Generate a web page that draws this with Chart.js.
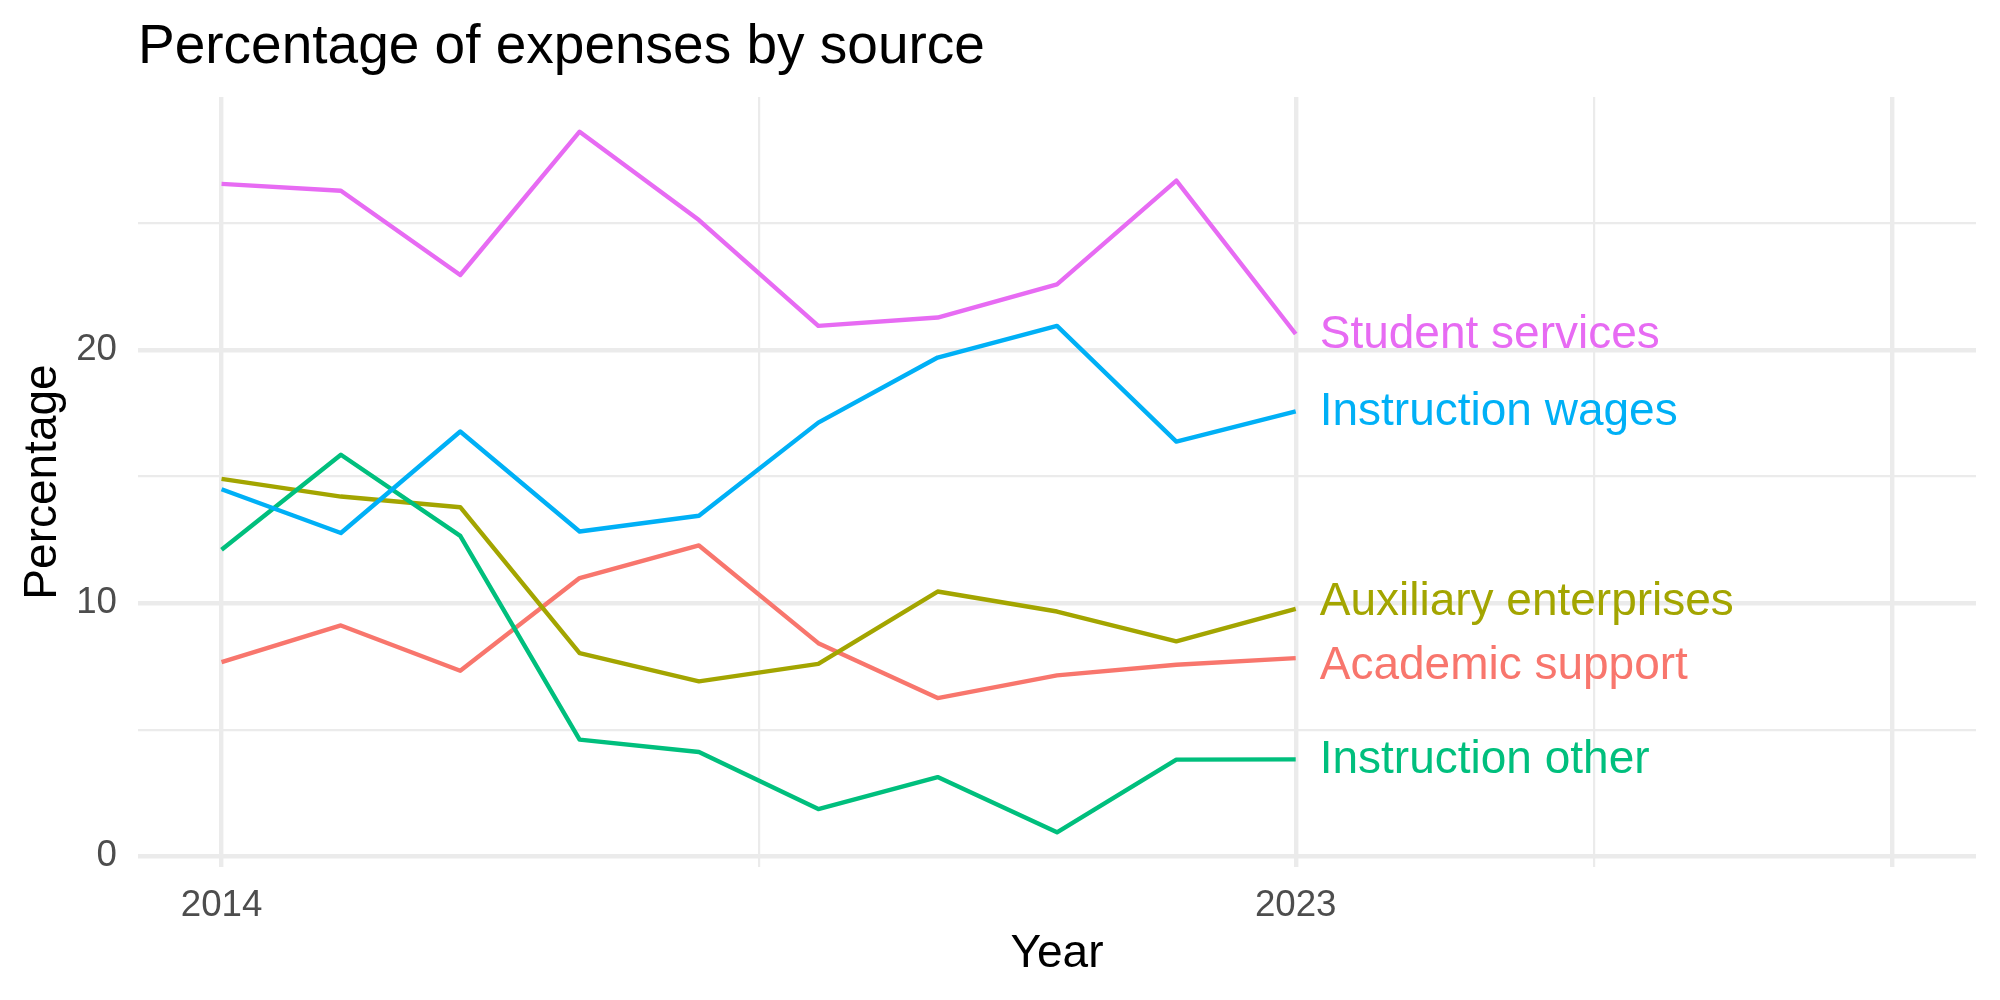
<!DOCTYPE html>
<html>
<head>
<meta charset="utf-8">
<script src="https://cdn.jsdelivr.net/npm/chart.js@4/dist/chart.umd.min.js"></script>
<style>
  html, body { margin: 0; padding: 0; background: #ffffff; }
  #wrap { width: 2000px; height: 1000px; }
</style>
</head>
<body>
<div id="wrap"><canvas id="c" width="2000" height="1000"></canvas></div>
<script>
// ---------- data ----------
const years = [2014, 2015, 2016, 2017, 2018, 2019, 2020, 2021, 2022, 2023];
const seriesNames = ["Academic support", "Auxiliary enterprises", "Instruction other", "Instruction wages", "Student services"];
const academicSupport      = [7.67, 9.12, 7.33, 10.99, 12.28, 8.42, 6.25, 7.15, 7.57, 7.83];
const auxiliaryEnterprises = [14.91, 14.21, 13.79, 8.03, 6.91, 7.60, 10.46, 9.67, 8.49, 9.77];
const instructionOther     = [12.11, 15.86, 12.66, 4.61, 4.12, 1.87, 3.13, 0.95, 3.82, 3.83];
const instructionWages     = [14.50, 12.77, 16.78, 12.83, 13.45, 17.13, 19.70, 20.95, 16.38, 17.57];
const studentServices      = [26.56, 26.29, 22.96, 28.62, 25.13, 20.95, 21.28, 22.59, 26.69, 20.63];
const seriesColors = ["#F8766D", "#A3A500", "#00BF7D", "#00B0F6", "#E76BF3"];

const xMajorBreaks = [2014, 2023, 2028];
const xMinorBreaks = [2018.5, 2025.5];
const xTickLabels = { 2014: "2014", 2023: "2023" };
const yMajorBreaks = [0, 10, 20];
const yMinorBreaks = [5, 15, 25];
const yTickLabels = { 0: "0", 10: "10", 20: "20" };

const titleText = "Percentage of expenses by source";
const xTitle = "Year";
const yTitle = "Percentage";

// ---------- chart ----------
const FONT = "'Liberation Sans', Arial, Helvetica, sans-serif";
const allSeries = [academicSupport, auxiliaryEnterprises, instructionOther, instructionWages, studentServices];

const datasets = allSeries.map((vals, i) => ({
  label: seriesNames[i],
  data: years.map((y, j) => ({ x: y, y: vals[j] })),
  borderColor: seriesColors[i],
  backgroundColor: seriesColors[i],
  borderWidth: 4.4,
  borderJoinStyle: 'round',
  pointRadius: 0,
  tension: 0,
  fill: false,
  order: allSeries.length - 1 - i
}));

const gridColor = "#EBEBEB";

const endLabels = {
  id: 'endLabels',
  afterDatasetsDraw(chart) {
    const ctx = chart.ctx;
    const xs = chart.scales.x, ys = chart.scales.y;
    // title
    ctx.save();
    ctx.fillStyle = "#000000";
    ctx.font = "55px " + FONT;
    ctx.textAlign = "left";
    ctx.textBaseline = "alphabetic";
    ctx.fillText(titleText, chart.chartArea.left, 63);
    ctx.restore();

    // end labels with simple repel
    const items = allSeries.map((vals, i) => ({
      i, y: ys.getPixelForValue(vals[vals.length - 1]),
      x: xs.getPixelForValue(years[years.length - 1])
    }));
    items.sort((a, b) => a.y - b.y);
    const minGap = 63.5;
    for (let iter = 0; iter < 50; iter++) {
      let moved = false;
      for (let k = 0; k < items.length - 1; k++) {
        const gap = items[k + 1].y - items[k].y;
        if (gap < minGap) {
          const d = (minGap - gap) / 2;
          items[k].y -= d; items[k + 1].y += d; moved = true;
        }
      }
      if (!moved) break;
    }
    ctx.save();
    ctx.font = "46px " + FONT;
    ctx.textAlign = "left";
    ctx.textBaseline = "middle";
    items.forEach(it => {
      ctx.fillStyle = seriesColors[it.i];
      ctx.fillText(seriesNames[it.i], it.x + 24, it.y + 1);
    });
    ctx.restore();
  }
};

new Chart(document.getElementById('c'), {
  type: 'line',
  data: { datasets },
  options: {
    responsive: false,
    animation: false,
    devicePixelRatio: 1,
    layout: { padding: { top: 97, right: 24, left: 0, bottom: 0 } },
    plugins: { legend: { display: false }, tooltip: { enabled: false }, title: { display: false } },
    scales: {
      x: {
        type: 'linear',
        min: 2013.3,
        max: 2028.7,
        afterBuildTicks(scale) {
          scale.ticks = [...xMajorBreaks, ...xMinorBreaks].sort((a, b) => a - b).map(v => ({ value: v }));
        },
        afterFit(scale) { scale.height = 133; },
        border: { display: false },
        grid: {
          drawTicks: false,
          color: gridColor,
          lineWidth: c => (c.tick && xMajorBreaks.includes(c.tick.value)) ? 4.4 : 2.2
        },
        ticks: {
          autoSkip: false,
          maxRotation: 0,
          padding: 17,
          color: "#4D4D4D",
          font: { family: FONT, size: 36.7 },
          callback: v => xTickLabels[v] || ""
        },
        title: {
          display: true,
          text: xTitle,
          color: "#000000",
          font: { family: FONT, size: 46 },
          padding: { top: 0, bottom: 18 }
        }
      },
      y: {
        type: 'linear',
        min: -0.42,
        max: 29.99,
        afterBuildTicks(scale) {
          scale.ticks = [...yMajorBreaks, ...yMinorBreaks].sort((a, b) => a - b).map(v => ({ value: v }));
        },
        afterFit(scale) { scale.width = 138; },
        border: { display: false },
        grid: {
          drawTicks: false,
          color: gridColor,
          lineWidth: c => (c.tick && yMajorBreaks.includes(c.tick.value)) ? 4.4 : 2.2
        },
        ticks: {
          autoSkip: false,
          padding: 21,
          color: "#4D4D4D",
          font: { family: FONT, size: 36.7 },
          callback: v => (yTickLabels[v] !== undefined ? yTickLabels[v] : "")
        },
        title: {
          display: true,
          text: yTitle,
          color: "#000000",
          font: { family: FONT, size: 46 },
          padding: { top: 16, bottom: 0 }
        }
      }
    }
  },
  plugins: [endLabels]
});
</script>
</body>
</html>
